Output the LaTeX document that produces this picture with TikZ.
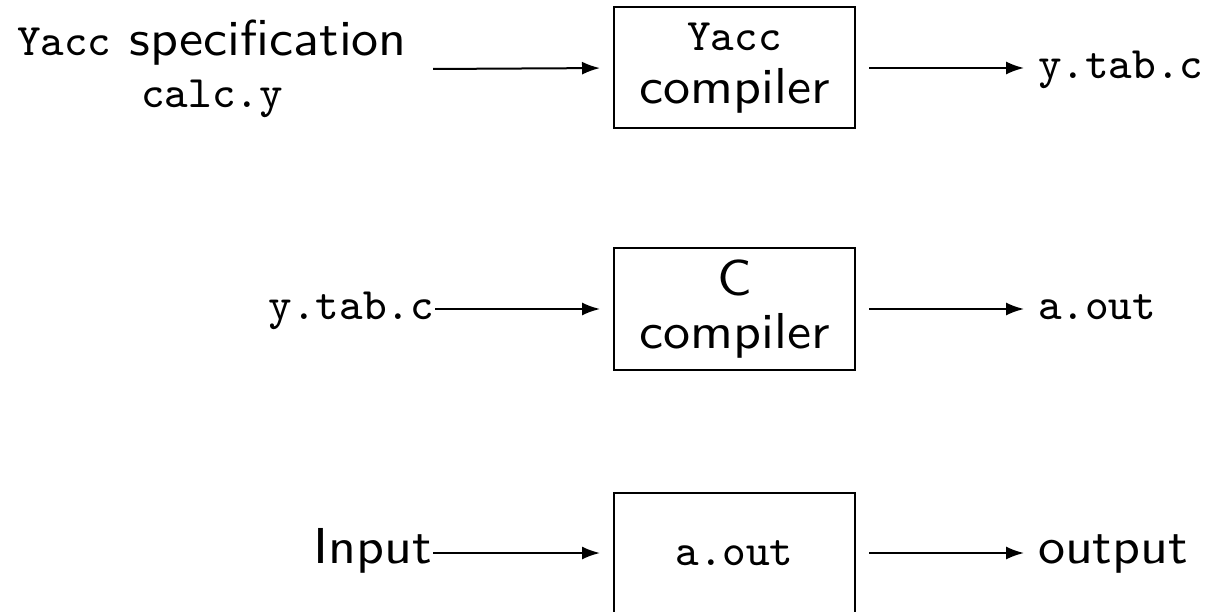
\documentclass[tikz,border=0pt]{standalone}
\usepackage{fontspec}
\newfontfamily\widesans[FakeStretch=1.07]{lmsans10-regular.otf}
\usetikzlibrary{arrows.meta}
\newcommand{\sfz}{\fontsize{10.1}{10}\selectfont\widesans}
\newcommand{\ttz}[1]{{\fontsize{9}{10}\selectfont\ttfamily #1}}
\tikzset{
  procbox/.style={draw, line width=0.4pt, minimum width=48.2pt, minimum height=24.2pt, inner sep=0pt, align=center, font=\sfz},
  lab/.style={inner sep=0pt, font=\sfz},
  flow/.style={line width=0.4pt, -{Latex[length=3.6pt,width=2.6pt]}},
}
\begin{document}
\begin{tikzpicture}[x=0.2pt,y=-0.2pt]
\useasboundingbox (0,0) rectangle (1207,611);
% row 1
\node[procbox] (yacc) at (734.5,68) {\ttz{Yacc}\\[0.6pt]compiler};
\node[lab, align=center] (spec) at (212,69) {\ttz{Yacc} specification\\[0.3pt]\ttz{calc.y}};
\coordinate (specout) at (433,69);
\node[lab, anchor=mid west] (ytab1) at (1037,68) {\ttz{y.tab.c}};
\draw[flow, shorten >=2.6pt] (specout) -- (yacc.west);
\draw[flow, shorten <=2.6pt, shorten >=2.6pt] (yacc.east) -- (ytab1.mid west);
% row 2
\node[procbox] (cc) at (734.5,309) {C\\[0.6pt]compiler};
\node[lab, anchor=mid east] (ytab2) at (435,309) {\ttz{y.tab.c}};
\node[lab, anchor=mid west] (aout1) at (1037,309) {\ttz{a.out}};
\draw[flow, shorten >=2.6pt] (ytab2.mid east) -- (cc.west);
\draw[flow, shorten <=2.6pt, shorten >=2.6pt] (cc.east) -- (aout1.mid west);
% row 3
\node[procbox] (run) at (734.5,553) {\ttz{a.out}};
\node[lab, anchor=mid east] (input) at (433,553) {Input};
\node[lab, anchor=mid west] (output) at (1037,553) {output};
\draw[flow, shorten >=2.6pt] (input.mid east) -- (run.west);
\draw[flow, shorten <=2.6pt, shorten >=2.6pt] (run.east) -- (output.mid west);
\end{tikzpicture}
\end{document}
